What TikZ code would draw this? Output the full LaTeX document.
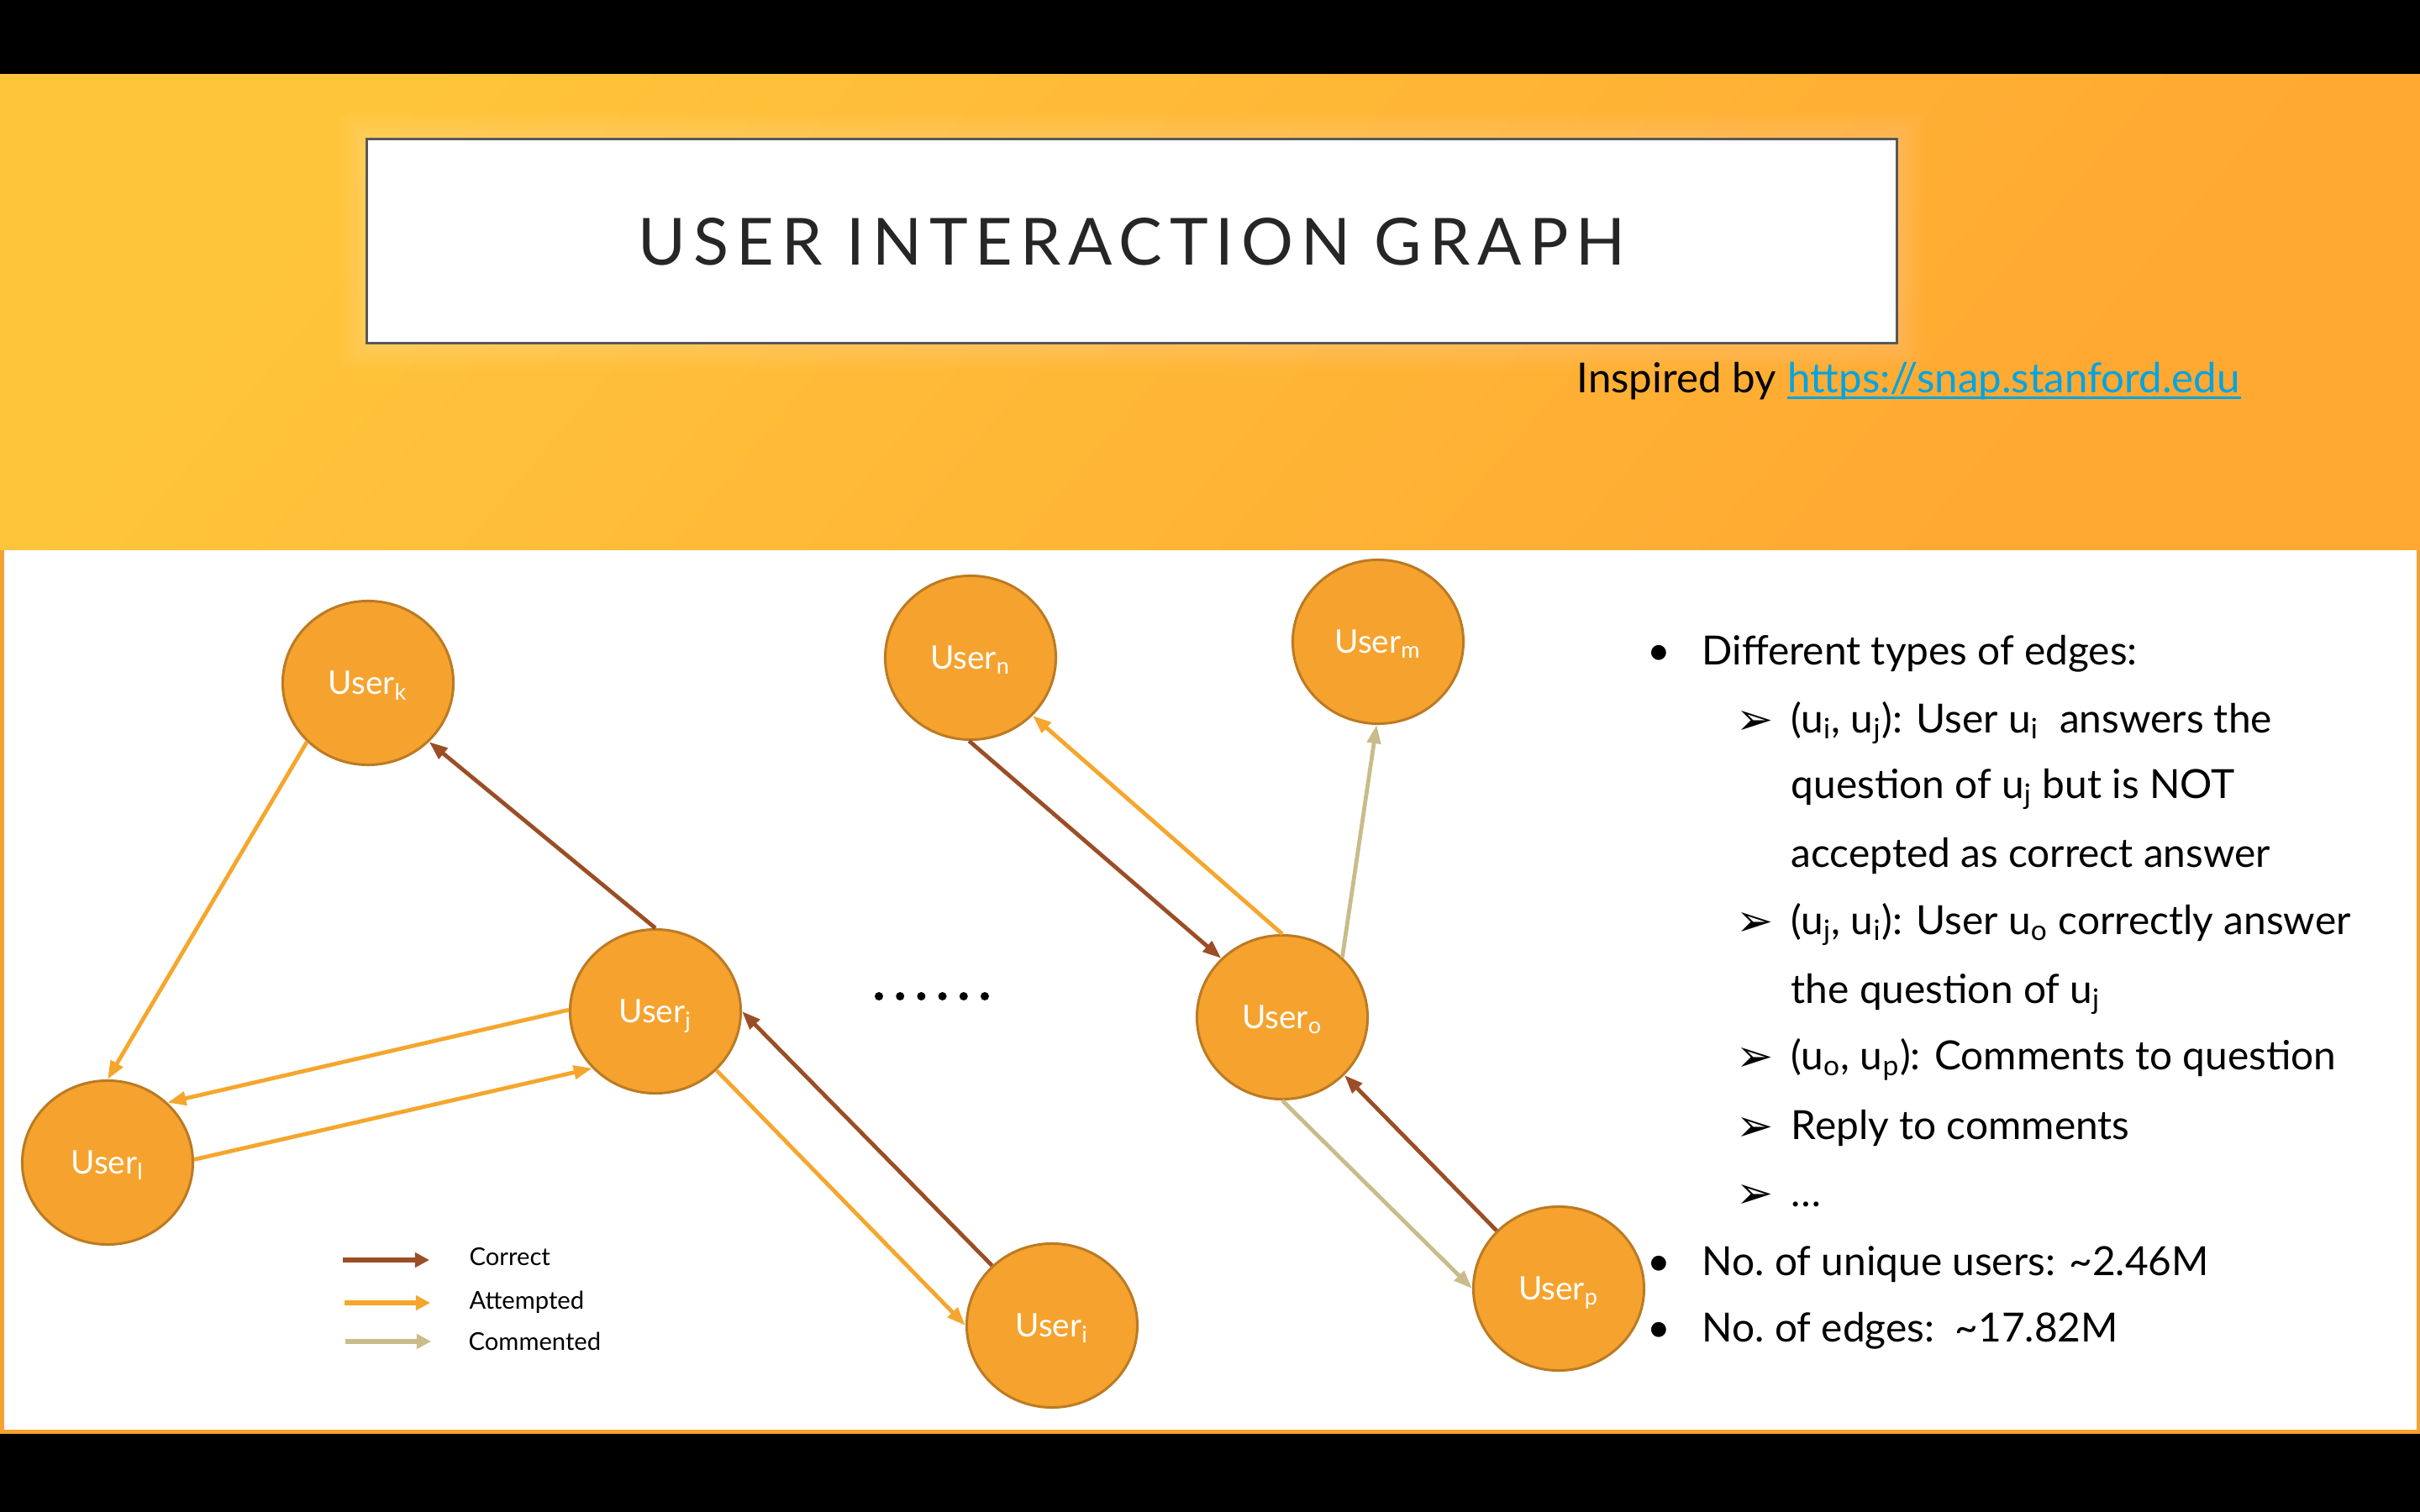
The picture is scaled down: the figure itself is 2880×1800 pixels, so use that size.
\documentclass[tikz,border=0pt]{standalone}
\usepackage{fontspec}
\setmainfont{Lato}
\newfontfamily\symfont{DejaVu Sans}
\usetikzlibrary{arrows.meta,shapes.geometric}

\definecolor{bandtop}{RGB}{255,197,58}
\definecolor{bandbot}{RGB}{255,168,50}
\definecolor{nodefill}{RGB}{245,163,46}
\definecolor{nodeedge}{RGB}{188,122,34}
\definecolor{correctc}{RGB}{155,78,38}
\definecolor{attemptc}{RGB}{246,166,45}
\definecolor{commentc}{RGB}{201,188,138}
\definecolor{titlegray}{RGB}{38,38,38}
\definecolor{framegray}{RGB}{88,88,88}
\definecolor{linkblue}{RGB}{0,164,226}
\definecolor{panelline}{RGB}{245,162,48}

\begin{document}
\begin{tikzpicture}[x=0.01cm,y=-0.01cm,
  user/.style={ellipse, draw=nodeedge, line width=0.03cm, fill=nodefill,
    minimum width=2.03cm, minimum height=1.95cm, inner sep=0pt, text=white,
    font=\fontsize{11}{13}\selectfont, text height=7.9pt, text depth=0pt},
  edgebase/.style={line width=0.048cm, -{Triangle[length=0.22cm,width=0.16cm]}},
  correct/.style={edgebase, draw=correctc},
  attempted/.style={edgebase, draw=attemptc},
  commented/.style={edgebase, draw=commentc},
  legarrow/.style={line width=0.06cm, -{Triangle[length=0.17cm,width=0.17cm]}},
  legtext/.style={anchor=base west, inner sep=0pt, font=\fontsize{8.3}{10}\selectfont},
  txt/.style={anchor=base west, inner sep=0pt, font=\fontsize{13.6}{16}\selectfont},
  bul/.style={anchor=base west, inner sep=0pt, font=\fontsize{13.6}{16}\selectfont},
  arr/.style={anchor=base west, inner sep=0pt, font=\symfont\fontsize{15}{18}\selectfont}
]
\useasboundingbox (0,0) rectangle (2880,1800);

% black frame, orange header band and white panel
\fill[black] (0,0) rectangle (2880,1800);
\shade[top color=bandtop, bottom color=bandbot, shading angle=50] (0,89) rectangle (2880,655);
\fill[white] (0,655) rectangle (2880,1706);
\draw[panelline, line width=0.05cm] (2,655) -- (2,1704) -- (2878,1704) -- (2878,655);

% soft glow around the title box
\foreach \g in {1,...,8}
  \fill[white, opacity=0.025, rounded corners=0.1cm]
    ({437-4*\g},{166-4*\g}) rectangle ({2257+4*\g},{408+4*\g});

% title
\node[draw=framegray, line width=0.03cm, fill=white, minimum width=18.2cm,
  minimum height=2.42cm, inner sep=0pt, text=titlegray, text depth=0pt,
  font=\addfontfeature{LetterSpace=11.5}\fontsize{22}{26}\selectfont]
  (title) at (1347,287) {USER INTERACTION GRAPH};

\node[anchor=base west, inner sep=0pt, font=\fontsize{14}{17}\selectfont]
  (insp) at (1876,468) {Inspired by};
\node[anchor=base west, inner sep=0pt, font=\fontsize{14}{17}\selectfont, text=linkblue]
  (link) at (2127,468) {https://snap.stanford.edu};
\draw[linkblue, line width=0.03cm] ([yshift=-0.05cm]link.base west) -- ([yshift=-0.05cm]link.base east);

% users
\node[user] (uk) at (438,813)  {User\textsubscript{k}};
\node[user] (ul) at (128,1384) {User\textsubscript{l}};
\node[user] (uj) at (780,1204) {User\textsubscript{j}};
\node[user] (ui) at (1252,1578) {User\textsubscript{i}};
\node[user] (un) at (1155,783) {User\textsubscript{n}};
\node[user] (um) at (1640,764) {User\textsubscript{m}};
\node[user] (uo) at (1526,1211) {User\textsubscript{o}};
\node[user] (up) at (1855,1534) {User\textsubscript{p}};

% interactions
\draw[attempted] (uk.224) -- (ul.90);
\draw[correct]   (uj.90)  -- (uk.316);
\draw[attempted] (uj.179) -- (ul.45);
\draw[attempted] (ul.2)   -- (uj.222);
\draw[correct]   (ui.135) -- (uj.0);
\draw[attempted] (uj.316) -- (ui.180);
\draw[correct]   (un.269) -- (uo.136);
\draw[attempted] (uo.90)  -- (un.317);
\draw[commented] (uo.45)  -- (um.269);
\draw[commented] (uo.270) -- (up.180);
\draw[correct]   (up.137) -- (uo.317);

% ellipsis between the two groups
\foreach \d in {0,...,5}
  \fill (1046+25.2*\d,1186) circle (0.05cm);

% legend
\coordinate (lc1) at (408,1500); \coordinate (lc2) at (511,1500);
\coordinate (la1) at (410,1551); \coordinate (la2) at (512,1551);
\coordinate (lm1) at (411,1597); \coordinate (lm2) at (513,1597);
\draw[legarrow, correctc] (lc1) -- (lc2);
\draw[legarrow, attemptc] (la1) -- (la2);
\draw[legarrow, commentc] (lm1) -- (lm2);
\node[legtext] (lgc) at (558,1506) {Correct};
\node[legtext] (lga) at (558,1558) {Attempted};
\node[legtext] (lgm) at (557,1607) {Commented};

% description
\node[bul] (b1) at (1960,791) {•};
\node[txt] (t1) at (2025,791) {Different types of edges:};
\node[arr] (a2) at (2066,874) {➢};
\node[txt] (t2) at (2131,872) {(u\textsubscript{i}, u\textsubscript{j}): User u\textsubscript{i}\ \ answers the};
\node[txt] (t3) at (2131,950) {question of u\textsubscript{j} but is NOT};
\node[txt] (t4) at (2131,1032) {accepted as correct answer};
\node[arr] (a5) at (2066,1114) {➢};
\node[txt] (t5) at (2131,1112) {(u\textsubscript{j}, u\textsubscript{i}): User u\textsubscript{o} correctly answer};
\node[txt] (t6) at (2131,1194) {the question of u\textsubscript{j}};
\node[arr] (a7) at (2066,1275) {➢};
\node[txt] (t7) at (2131,1273) {(u\textsubscript{o}, u\textsubscript{p}): Comments to question};
\node[arr] (a8) at (2066,1358) {➢};
\node[txt] (t8) at (2131,1356) {Reply to comments};
\node[arr] (a9) at (2066,1438) {➢};
\node[txt] (t9) at (2131,1436) {…};
\node[bul] (b10) at (1960,1518) {•};
\node[txt] (t10) at (2025,1518) {No.\ of unique users: \textasciitilde2.46M};
\node[bul] (b11) at (1960,1597) {•};
\node[txt] (t11) at (2025,1597) {No.\ of edges:\ \ \textasciitilde17.82M};
\end{tikzpicture}
\end{document}
